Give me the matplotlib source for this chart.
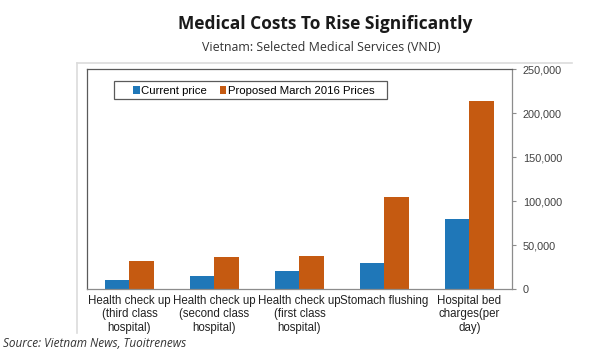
import numpy as np
import matplotlib.pyplot as plt
from matplotlib.lines import Line2D
from matplotlib.patches import Rectangle

categories = ["Health check up\n(third class\nhospital)",
              "Health check up\n(second class\nhospital)",
              "Health check up\n(first class\nhospital)",
              "Stomach flushing",
              "Hospital bed\ncharges(per\nday)"]
current_price = [10000, 15000, 20000, 30000, 80000]
proposed_price = [32000, 36000, 38000, 105000, 214000]
yticks = [0, 50000, 100000, 150000, 200000, 250000]

blue = '#1F77B8'
orange = '#C55A11'
axis_grey = '#8c8c8c'
text_col = '#404040'

fig = plt.figure(figsize=(6, 3.6), dpi=100)
ax = fig.add_axes([0.145, 0.197, 0.708, 0.611])

x = np.arange(len(categories))
w = 0.285
ax.bar(x - w / 2, current_price, w, color=blue, label='Current price')
ax.bar(x + w / 2, proposed_price, w, color=orange, label='Proposed March 2016 Prices')

ax.set_xlim(-0.5, len(categories) - 0.5)
ax.set_ylim(0, 250000)
ax.yaxis.tick_right()
ax.set_yticks(yticks)
ax.set_yticklabels([f"{v:,}" for v in yticks], fontsize=7.8, color=text_col,
                   family='Liberation Sans')
ax.tick_params(axis='y', direction='out', length=3, color=axis_grey, pad=5)
ax.set_xticks(x)
ax.set_xticklabels(categories, fontsize=8.3, color='#222222', family='Liberation Sans',
                   linespacing=1.2)
ax.tick_params(axis='x', length=0, pad=4)

for side in ['left', 'top']:
    ax.spines[side].set_color('#5a5a5a')
    ax.spines[side].set_linewidth(0.9)
for side in ['right', 'bottom']:
    ax.spines[side].set_color(axis_grey)
    ax.spines[side].set_linewidth(0.9)

# legend without its own frame; box drawn separately to get Excel-like padding
leg = ax.legend(loc='center left', bbox_to_anchor=(0.109, 0.9), ncol=2,
                prop={'family': 'Liberation Sans', 'size': 8.2},
                frameon=False, handlelength=0.55, handleheight=0.6, handletextpad=0.15,
                columnspacing=1.1, borderpad=0, borderaxespad=0)
fig.add_artist(Rectangle((114 / 600, 1 - 99 / 360), 273 / 600, 18 / 360,
                         fill=False, edgecolor='#5a5a5a', lw=0.9,
                         transform=fig.transFigure))

# light outer frame around the chart image
fig.add_artist(Line2D([77 / 600, 77 / 600], [1 - 333 / 360, 1 - 63 / 360],
                      color='#dcdcdc', lw=1.2, transform=fig.transFigure))
fig.add_artist(Line2D([77 / 600, 572 / 600], [1 - 63 / 360, 1 - 63 / 360],
                      color='#dcdcdc', lw=1.2, transform=fig.transFigure))

fig.text(0.542, 0.933, "Medical Costs To Rise Significantly", ha='center', va='center',
         fontsize=12.5, fontweight='bold', family='Open Sans', color='#1a1a1a')
fig.text(0.535, 0.868, "Vietnam: Selected Medical Services (VND)", ha='center', va='center',
         fontsize=8.9, family='Open Sans', color='#333333')
fig.text(0.005, 0.047, "Source: Vietnam News, Tuoitrenews", ha='left', va='center',
         fontsize=8.5, style='italic', family='Open Sans', color='#333333')

fig.savefig('out.png', dpi=100)
